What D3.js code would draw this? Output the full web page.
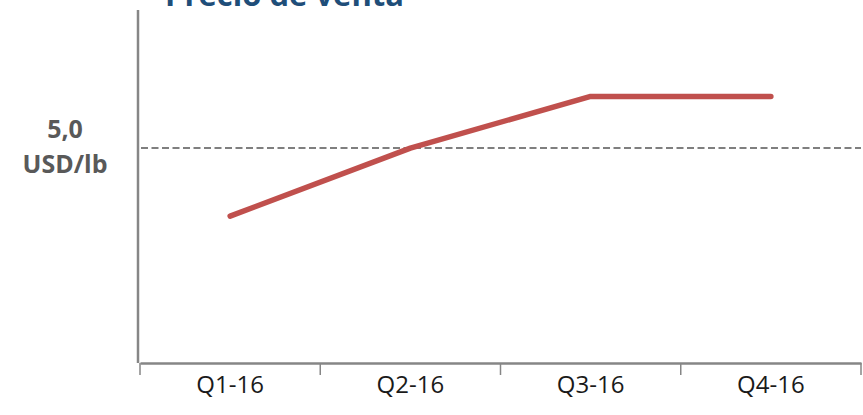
<!DOCTYPE html>
<html><head><meta charset="utf-8">
<script src="https://cdn.jsdelivr.net/npm/d3@7"></script>
<style>body{margin:0;background:#fff}svg{display:block}</style>
</head><body>
<svg id="c" width="863" height="415"></svg>
<script>
const categories = ["Q1-16","Q2-16","Q3-16","Q4-16"];
const prices = [4.5, 5.0, 5.38, 5.38];
const referenceValue = 5.0;
const referenceLabel = ["5,0","USD/lb"];
const title = "Precio de venta";

(function(){
const svg = d3.select("#c");
const mLeft = 138, mTop = 10, mBottom = 363;
const x = d3.scaleBand().domain(categories).range([140, 861]);
const y = d3.scaleLinear().domain([3.42, 6.015]).range([mBottom, mTop]);

// title
svg.append("text").attr("x", 165).attr("y", 6)
  .attr("font-family","Open Sans").attr("font-weight","bold").attr("font-size",31)
  .attr("fill","#1F4E79").text(title);

// reference dashed line
svg.append("line").attr("x1",141).attr("x2",861)
  .attr("y1",y(referenceValue)).attr("y2",y(referenceValue))
  .attr("stroke","#7f7f7f").attr("stroke-width",2).attr("stroke-dasharray","7,3.5");

// y axis line
svg.append("line").attr("x1",mLeft).attr("x2",mLeft).attr("y1",mTop).attr("y2",mBottom)
  .attr("stroke","#868686").attr("stroke-width",2.5);

// x axis
const xa = svg.append("g").attr("transform",`translate(0,${mBottom})`)
  .call(d3.axisBottom(x).tickSize(0).tickPadding(10));
xa.select(".domain").attr("stroke","#868686").attr("stroke-width",2.5);
xa.selectAll("text").attr("font-family","Open Sans").attr("font-size",24)
  .attr("fill","#1a1a1a").attr("dy","0.85em");
const bounds = categories.map(c => x(c)).concat([x(categories[categories.length-1]) + x.bandwidth()]);
svg.append("g").selectAll("line").data(bounds).join("line")
  .attr("x1",d=>d).attr("x2",d=>d).attr("y1",mBottom).attr("y2",mBottom+12)
  .attr("stroke","#868686").attr("stroke-width",1.5);

// reference label
const rl = svg.append("text").attr("font-family","Open Sans")
  .attr("font-weight","bold").attr("font-size",25).attr("fill","#595959").attr("text-anchor","middle");
rl.append("tspan").attr("x",65).attr("y",138).text(referenceLabel[0]);
rl.append("tspan").attr("x",65).attr("y",173).text(referenceLabel[1]);

// price line
const line = d3.line().x((d,i)=>x(categories[i]) + x.bandwidth()/2).y(d=>y(d));
svg.append("path").datum(prices).attr("d",line).attr("fill","none")
  .attr("stroke","#C0504D").attr("stroke-width",5.5).attr("stroke-linecap","round").attr("stroke-linejoin","round");
})();
</script>
</body></html>
